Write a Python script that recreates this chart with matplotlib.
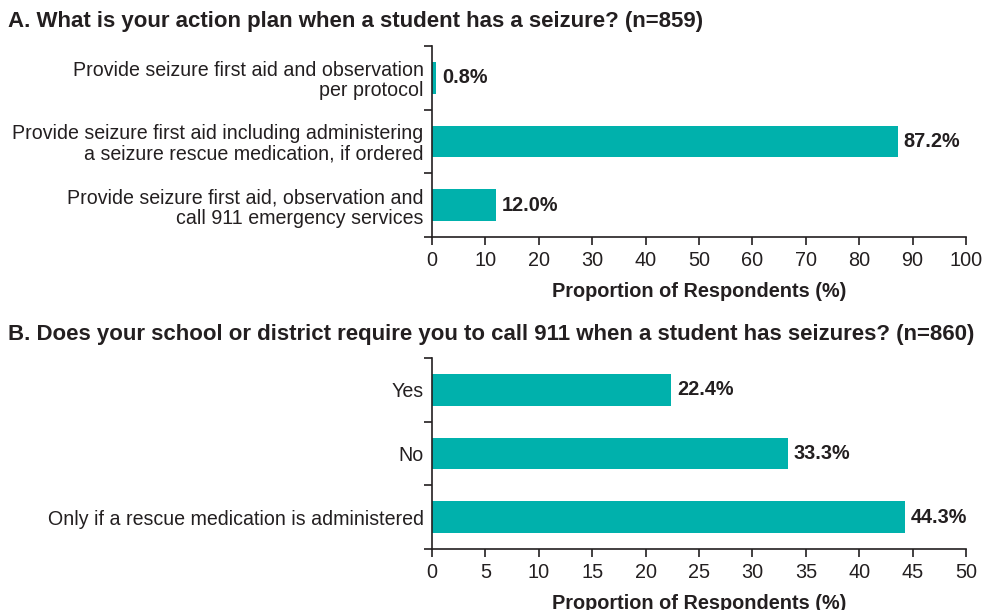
import matplotlib.pyplot as plt
from matplotlib.ticker import FixedLocator

plt.rcParams['font.family'] = ['Liberation Sans', 'DejaVu Sans']

# panel A data
plan_labels = ['Provide seizure first aid and observation\nper protocol',
               'Provide seizure first aid including administering\na seizure rescue medication, if ordered',
               'Provide seizure first aid, observation and\ncall 911 emergency services']
plan_values = [0.8, 87.2, 12.0]

# panel B data
call_labels = ['Yes', 'No', 'Only if a rescue medication is administered']
call_values = [22.4, 33.3, 44.3]

teal = '#00B1AC'
ink = '#231F20'
fs = 14.3

fig = plt.figure(figsize=(9.84, 6.10), dpi=100)
ax_a = fig.add_axes([0.439, 0.6115, 0.5427, 0.3131])
ax_b = fig.add_axes([0.439, 0.100, 0.5427, 0.3131])


def draw_panel(ax, labels, values, xmax, step):
    y = list(range(len(labels)))
    ax.barh(y, values, height=0.5, color=teal)
    for yi, v in zip(y, values):
        ax.annotate(f'{v:.1f}%', (v, yi), xytext=(4, 0), textcoords='offset points',
                    va='center', ha='left', fontsize=fs, fontweight='bold', color=ink)
    ax.set_ylim(len(labels) - 0.5, -0.5)
    ax.set_xlim(0, xmax)
    ax.set_yticks(y)
    ax.set_yticklabels(labels, fontsize=14.1, color=ink, linespacing=1.1)
    ax.tick_params(axis='y', which='major', length=0, pad=6)
    ax.yaxis.set_minor_locator(FixedLocator([i - 0.5 for i in range(len(labels) + 1)]))
    ax.tick_params(axis='y', which='minor', length=6, width=1.2, color=ink)
    ax.set_xticks(range(0, xmax + 1, step))
    ax.tick_params(axis='x', length=6, width=1.2, color=ink, labelsize=fs, labelcolor=ink, pad=4)
    for s in ('top', 'right'):
        ax.spines[s].set_visible(False)
    for s in ('left', 'bottom'):
        ax.spines[s].set_linewidth(1.2)
        ax.spines[s].set_color(ink)
    ax.set_xlabel('Proportion of Respondents (%)', fontsize=fs, fontweight='bold',
                  color=ink, labelpad=9)


draw_panel(ax_a, plan_labels, plan_values, 100, 10)
draw_panel(ax_b, call_labels, call_values, 50, 5)

fig.text(0.008, 0.965, 'A. What is your action plan when a student has a seizure? (n=859)',
         fontsize=16, fontweight='bold', color=ink, va='center', ha='left')
fig.text(0.008, 0.452, 'B. Does your school or district require you to call 911 when a student has seizures? (n=860)',
         fontsize=16, fontweight='bold', color=ink, va='center', ha='left')

fig.savefig('out.png', dpi=100)
